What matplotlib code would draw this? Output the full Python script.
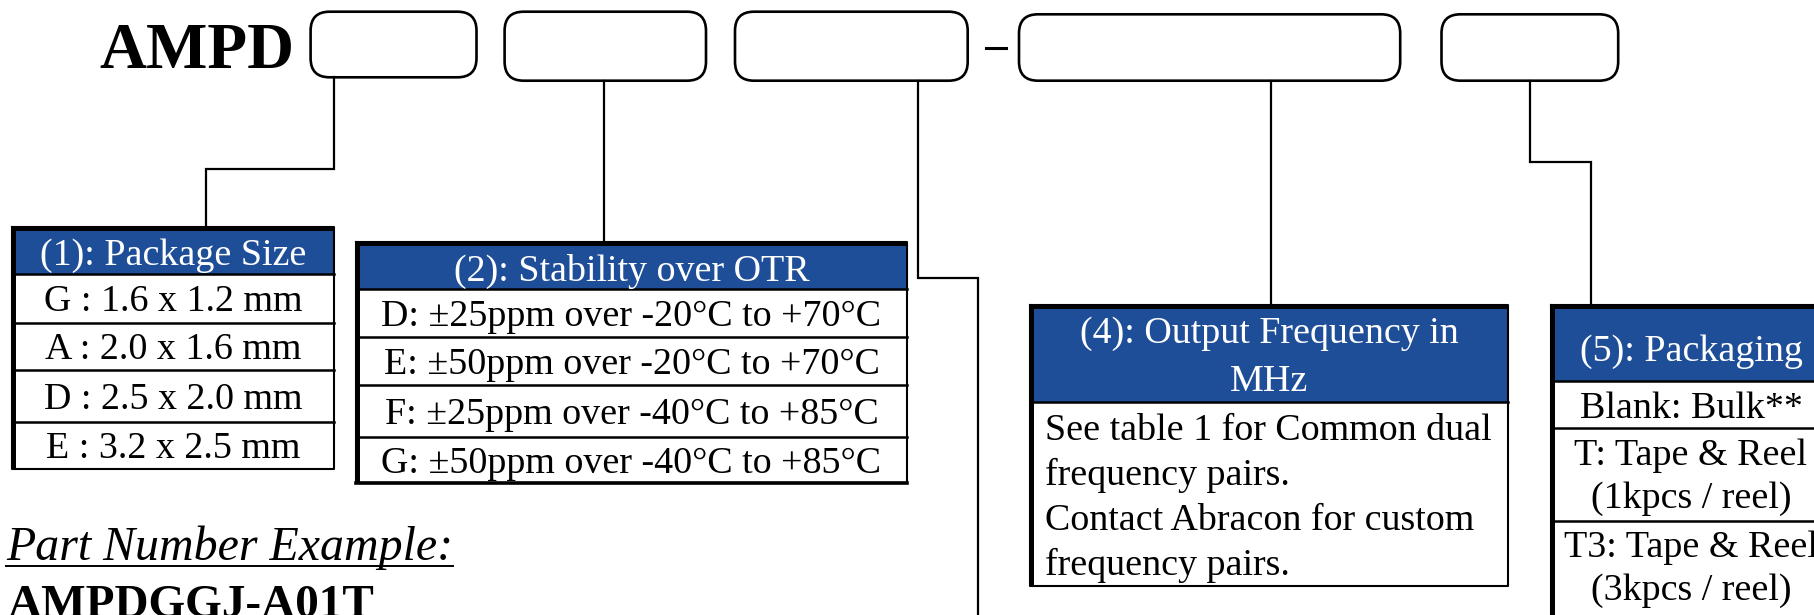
import matplotlib.pyplot as plt
from matplotlib.patches import FancyBboxPatch, Rectangle

prefix = "AMPD"
example_label = "Part Number Example:"
example_part = "AMPDGGJ-A01T"

size_header = "(1): Package Size"
size_rows = ["G : 1.6 x 1.2 mm", "A : 2.0 x 1.6 mm", "D : 2.5 x 2.0 mm", "E : 3.2 x 2.5 mm"]

stab_header = "(2): Stability over OTR"
stab_rows = ["D: ±25ppm over -20°C to +70°C", "E: ±50ppm over -20°C to +70°C",
             "F: ±25ppm over -40°C to +85°C", "G: ±50ppm over -40°C to +85°C"]

freq_header = ["(4): Output Frequency in", "MHz"]
freq_rows = ["See table 1 for Common dual", "frequency pairs.",
             "Contact Abracon for custom", "frequency pairs."]

pack_header = "(5): Packaging"
pack_rows = [["Blank: Bulk**"], ["T: Tape & Reel", "(1kpcs / reel)"], ["T3: Tape & Reel", "(3kpcs / reel)"]]

BLUE = "#1f4e99"
FONT = "Liberation Serif"
FS = 27.4

fig = plt.figure(figsize=(18.15, 6.15), dpi=100)
ax = fig.add_axes([0, 0, 1, 1])
ax.set_xlim(0, 1815)
ax.set_ylim(615, 0)
ax.axis("off")


def txt(x, y, s, **kw):
    kw.setdefault("fontsize", FS)
    kw.setdefault("ha", "center")
    ax.text(x, y, s, family=FONT, va="baseline", **kw)


def frame(x0, x1, top, hdr_top, hdr_bot, seps, bottom, thick_bottom=False):
    ax.add_patch(Rectangle((x0, hdr_top), x1 - x0, hdr_bot - hdr_top, color=BLUE, lw=0))
    ax.plot([x0, x1, x1, x0, x0], [top, top, bottom, bottom, top], color="black", lw=1.5)
    for y in [hdr_bot] + seps:
        ax.plot([x0, x1], [y, y], color="black", lw=1.8)
    # heavier left / top edge like the original
    ax.add_patch(Rectangle((x0, top), x1 - x0, hdr_top - top, color="black", lw=0))
    ax.add_patch(Rectangle((x0, top), 4, bottom - top, color="black", lw=0))
    if thick_bottom:
        ax.plot([x0, x1], [bottom, bottom], color="black", lw=2.6)


# part number boxes
boxes = [(310.6, 476.5, 11.7, 77.3), (504.6, 706, 11.7, 80.7), (735, 967.7, 11.7, 80.7),
         (1019, 1400.2, 14.3, 80.7), (1441.5, 1618.2, 14.3, 80.7)]
for x0, x1, y0, y1 in boxes:
    ax.add_patch(FancyBboxPatch((x0, y0), x1 - x0, y1 - y0,
                                boxstyle="round,pad=0,rounding_size=19",
                                fc="white", ec="black", lw=1.9))

txt(99.5, 68.3, prefix, fontsize=46.8, weight="bold", ha="left")
ax.plot([986, 1006], [47.7, 47.7], color="black", lw=2.2)

# connectors
lines = [
    ([334.1, 334.1, 206.4, 206.4], [77.3, 169.3, 169.3, 226.7]),
    ([603.8, 603.8], [80.7, 241.7]),
    ([918.3, 918.3, 978.5, 978.5], [80.7, 277.7, 277.7, 620]),
    ([1270.6, 1270.6], [80.7, 305]),
    ([1530.2, 1530.2, 1590.8, 1590.8], [80.7, 162.3, 162.3, 305]),
]
for xs, ys in lines:
    ax.plot(xs, ys, color="black", lw=1.6, solid_joinstyle="miter")

# table 1
seps1 = [322.7, 370, 421.7]
frame(12.3, 333.7, 226.7, 230.5, 274, seps1, 469)
txt(173, 265, size_header, color="white")
bounds = [274] + seps1 + [469]
for i, s in enumerate(size_rows):
    txt(173, (bounds[i] + bounds[i + 1]) / 2 + 13, s)

# table 2
seps2 = [336.7, 385, 436.7]
frame(355.7, 907, 241.7, 245.5, 289.3, seps2, 483.3, thick_bottom=True)
txt(631.5, 280.5, stab_header, color="white")
bounds = [289.3] + seps2 + [483.3]
for i, s in enumerate(stab_rows):
    txt(631.5, (bounds[i] + bounds[i + 1]) / 2 + 13, s)

# table 4
frame(1030.5, 1507.8, 305, 309, 401.7, [], 586)
for i, s in enumerate(freq_header):
    txt(1269, 343.3 + 48 * i, s, color="white")
for i, s in enumerate(freq_rows):
    txt(1045, 440 + 45 * i, s, ha="left")

# table 5
seps5 = [428.3, 520.7]
frame(1551.4, 1831, 305, 309, 380.7, seps5, 640)
txt(1691, 361, pack_header, color="white")
row_base = [[418.3], [465, 508], [556.7, 600]]
for rows, ys in zip(pack_rows, row_base):
    for s, y in zip(rows, ys):
        txt(1691, y, s)

# example
txt(6, 560, example_label, fontsize=34.5, style="italic", ha="left")
ax.plot([6, 453], [566, 566], color="black", lw=1.4)
txt(7.7, 617, example_part, fontsize=34, weight="bold", ha="left")

plt.savefig("out.png", dpi=100)
